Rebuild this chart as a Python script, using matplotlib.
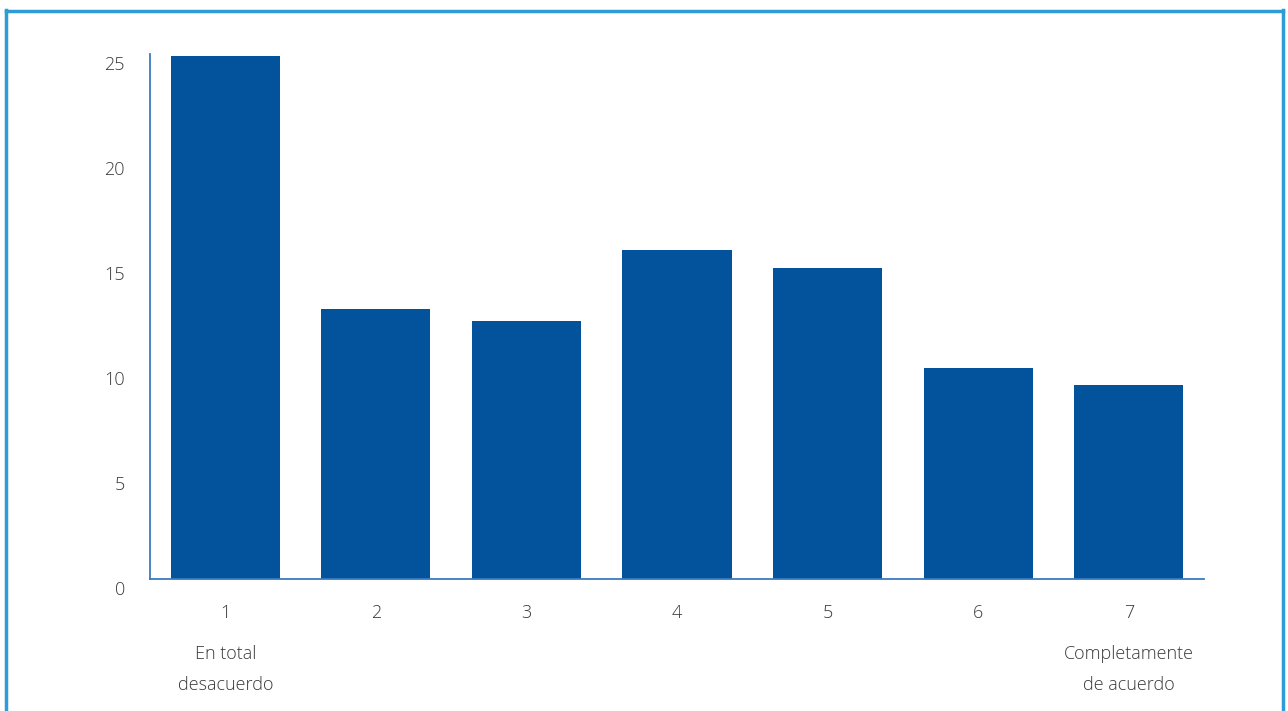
import matplotlib.pyplot as plt
from matplotlib.lines import Line2D
from matplotlib import transforms

# Valores
categories = ["1", "2", "3", "4", "5", "6", "7"]
values = [24.9, 12.85, 12.3, 15.65, 14.8, 10.05, 9.25]
y_ticks = [0, 5, 10, 15, 20, 25]
end_labels = {1: "En total\ndesacuerdo", 7: "Completamente\nde acuerdo"}

plt.rcParams['font.family'] = ['Open Sans', 'DejaVu Sans']
plt.rcParams['font.weight'] = 'light'

fig = plt.figure(figsize=(12.88, 7.11), dpi=100)
W, H = 1288, 711
ax = fig.add_axes([150 / W, (H - 579) / H, (1204 - 150) / W, (579 - 54) / H])

positions = list(range(1, len(categories) + 1))
ax.bar(positions, values, width=0.725, color="#02529c", zorder=2)

ax.set_xlim(0.5, 7.5)
ax.set_ylim(0, 25)
ax.set_yticks(y_ticks)
ax.set_yticklabels([str(t) for t in y_ticks])
ax.set_xticks(positions)
ax.set_xticklabels(categories)

text_color = "#3a3a3a"
ax.tick_params(axis="both", length=0, labelsize=13, labelcolor=text_color)
ax.tick_params(axis="x", pad=18)
ax.tick_params(axis="y", pad=18)

# y labels sit slightly below their tick values in the original
offset = transforms.ScaledTranslation(0, -9 / 100, fig.dpi_scale_trans)
for lbl in ax.get_yticklabels():
    lbl.set_transform(lbl.get_transform() + offset)

for spine in ["top", "right"]:
    ax.spines[spine].set_visible(False)
for spine in ["left", "bottom"]:
    ax.spines[spine].set_color("#3b7bbf")
    ax.spines[spine].set_linewidth(1.3)

for pos, txt in end_labels.items():
    ax.annotate(txt, xy=(pos, 0), xycoords=("data", "axes fraction"),
                xytext=(0, -47.5), textcoords="offset points",
                ha="center", va="top", fontsize=13, color=text_color,
                linespacing=1.95, annotation_clip=False)

# light blue frame around the figure
frame_color = "#2f9bd7"
fig.add_artist(Line2D([6 / W, 6 / W], [0, 1 - 10 / H], color=frame_color, lw=2.5))
fig.add_artist(Line2D([6 / W, 1283 / W], [1 - 11 / H, 1 - 11 / H], color=frame_color, lw=2.5))
fig.add_artist(Line2D([1283 / W, 1283 / W], [0, 1 - 10 / H], color=frame_color, lw=2.5))

plt.savefig("out.png", dpi=100)
